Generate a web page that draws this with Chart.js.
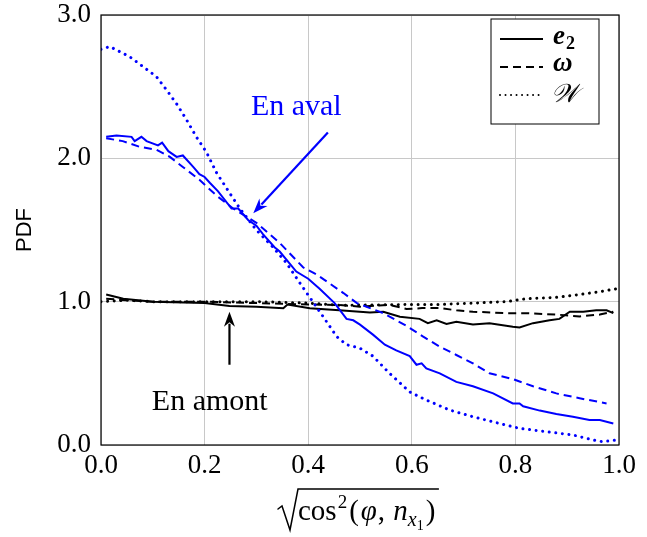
<!DOCTYPE html>
<html>
<head>
<meta charset="utf-8">
<script src="https://cdn.jsdelivr.net/npm/chart.js@4/dist/chart.umd.min.js"></script>
<style>
  html, body { margin: 0; padding: 0; background: #fff; }
  #wrap { width: 647px; height: 537px; }
</style>
</head>
<body>
<div id="wrap"><canvas id="pdfChart" width="647" height="537"></canvas></div>
<script>
// downstream (en aval), blue
const avalE2X = [0.01,0.03,0.059,0.065,0.078,0.088,0.11,0.118,0.13,0.146,0.158,0.178,0.19,0.2,0.21,0.226,0.252,0.265,0.284,0.30,0.313,0.335,0.345,0.377,0.40,0.422,0.451,0.474,0.487,0.50,0.525,0.548,0.57,0.596,0.609,0.619,0.628,0.654,0.686,0.718,0.757,0.795,0.808,0.815,0.847,0.879,0.911,0.943,0.963,0.989];
const avalE2Y = [2.15,2.16,2.15,2.12,2.15,2.12,2.09,2.11,2.05,2.01,2.02,1.94,1.89,1.87,1.83,1.77,1.65,1.65,1.57,1.53,1.47,1.38,1.35,1.21,1.16,1.09,0.99,0.88,0.87,0.84,0.77,0.70,0.66,0.62,0.56,0.57,0.535,0.50,0.44,0.41,0.36,0.29,0.29,0.27,0.24,0.216,0.197,0.174,0.174,0.15];

const avalOmX = [0.01,0.042,0.075,0.107,0.133,0.158,0.19,0.223,0.255,0.30,0.345,0.39,0.416,0.468,0.494,0.545,0.59,0.622,0.654,0.686,0.718,0.75,0.795,0.834,0.879,0.924,0.976];
const avalOmY = [2.14,2.12,2.08,2.06,2.01,1.94,1.85,1.74,1.65,1.55,1.41,1.24,1.19,1.06,0.99,0.92,0.83,0.756,0.686,0.628,0.57,0.50,0.46,0.41,0.36,0.326,0.29];

const avalWX = [0.0,0.017,0.055,0.081,0.107,0.126,0.146,0.165,0.184,0.204,0.223,0.248,0.268,0.30,0.332,0.358,0.384,0.403,0.429,0.455,0.474,0.50,0.525,0.557,0.596,0.628,0.673,0.718,0.763,0.808,0.86,0.911,0.95,0.969,0.995];
const avalWY = [2.76,2.78,2.71,2.64,2.57,2.48,2.38,2.27,2.15,2.04,1.90,1.76,1.65,1.50,1.38,1.27,1.13,1.03,0.895,0.756,0.70,0.675,0.62,0.50,0.37,0.314,0.244,0.197,0.156,0.116,0.093,0.07,0.035,0.023,0.035];

// upstream (en amont), black
const amontE2X = [0.01,0.043,0.1,0.2,0.248,0.3,0.352,0.36,0.403,0.46,0.519,0.545,0.577,0.615,0.631,0.648,0.667,0.686,0.718,0.75,0.795,0.808,0.834,0.866,0.885,0.905,0.931,0.956,0.976,0.989];
const amontE2Y = [1.05,1.02,1.0,0.99,0.97,0.965,0.954,0.98,0.954,0.94,0.925,0.93,0.895,0.88,0.85,0.87,0.845,0.86,0.84,0.85,0.825,0.82,0.85,0.87,0.88,0.93,0.93,0.94,0.94,0.92];

const amontOmX = [0.01,0.05,0.1,0.2,0.3,0.4,0.46,0.5,0.557,0.59,0.62,0.654,0.686,0.718,0.782,0.82,0.879,0.924,0.963,0.989];
const amontOmY = [1.02,1.01,1.0,1.0,0.99,0.98,0.977,0.965,0.977,0.949,0.955,0.955,0.94,0.93,0.92,0.92,0.91,0.897,0.91,0.93];

const amontWX = [0.0,0.05,0.1,0.2,0.3,0.4,0.46,0.525,0.59,0.654,0.718,0.782,0.82,0.879,0.924,0.963,0.995];
const amontWY = [1.0,1.01,1.0,1.0,1.0,0.99,0.975,0.977,0.98,0.98,0.99,1.0,1.02,1.03,1.05,1.07,1.09];

const xTicks = [0.0, 0.2, 0.4, 0.6, 0.8, 1.0];
const yTicks = [0.0, 1.0, 2.0, 3.0];
const legendLabels = ['e', 'ω', '𝒲'];

const SERIF = '"Liberation Serif", "DejaVu Serif", serif';
const BLUE = '#0000ff';
const DASH = [8, 5];
const DOT = [0.01, 6.6];

function pts(xs, ys) {
  return xs.map((x, i) => ({ x: x, y: ys[i] }));
}

function series(xs, ys, color, dash) {
  return {
    data: pts(xs, ys),
    borderColor: color,
    borderWidth: dash === DOT ? 3 : 2,
    borderDash: dash || [],
    borderCapStyle: dash === DOT ? 'round' : 'butt',
    pointRadius: 0,
    tension: 0,
    fill: false
  };
}

// frame, annotations, legend, axis titles
const extras = {
  id: 'extras',
  afterDatasetsDraw(chart) {
    const ctx = chart.ctx;
    const a = chart.chartArea;
    const xs = chart.scales.x, ys = chart.scales.y;
    ctx.save();

    // frame
    ctx.strokeStyle = '#000';
    ctx.lineWidth = 1.2;
    ctx.setLineDash([]);
    ctx.strokeRect(a.left, a.top, a.right - a.left, a.bottom - a.top);

    function arrow(x0, y0, x1, y1, color) {
      const px0 = xs.getPixelForValue(x0), py0 = ys.getPixelForValue(y0);
      const px1 = xs.getPixelForValue(x1), py1 = ys.getPixelForValue(y1);
      const ang = Math.atan2(py1 - py0, px1 - px0);
      const L = 15, W = 5.5;
      ctx.strokeStyle = color;
      ctx.fillStyle = color;
      ctx.lineWidth = 2.2;
      ctx.beginPath();
      ctx.moveTo(px0, py0);
      ctx.lineTo(px1 - Math.cos(ang) * L * 0.8, py1 - Math.sin(ang) * L * 0.8);
      ctx.stroke();
      ctx.beginPath();
      ctx.moveTo(px1, py1);
      ctx.lineTo(px1 - Math.cos(ang) * L - Math.sin(ang) * W, py1 - Math.sin(ang) * L + Math.cos(ang) * W);
      ctx.lineTo(px1 - Math.cos(ang) * L * 0.7, py1 - Math.sin(ang) * L * 0.7);
      ctx.lineTo(px1 - Math.cos(ang) * L + Math.sin(ang) * W, py1 - Math.sin(ang) * L - Math.cos(ang) * W);
      ctx.closePath();
      ctx.fill();
    }

    // "En aval"
    ctx.font = '30px ' + SERIF;
    ctx.textAlign = 'center';
    ctx.textBaseline = 'middle';
    ctx.fillStyle = BLUE;
    ctx.fillText('En aval', xs.getPixelForValue(0.377), ys.getPixelForValue(2.36));
    arrow(0.438, 2.18, 0.294, 1.616, BLUE);

    // "En amont"
    ctx.fillStyle = '#000';
    ctx.fillText('En amont', xs.getPixelForValue(0.21), ys.getPixelForValue(0.30));
    arrow(0.248, 0.56, 0.248, 0.93, '#000');

    // legend
    const lx = 491, ly = 19, lw = 108, lh = 105;
    ctx.fillStyle = '#fff';
    ctx.fillRect(lx, ly, lw, lh);
    ctx.strokeStyle = '#000';
    ctx.lineWidth = 1;
    ctx.strokeRect(lx, ly, lw, lh);
    const rows = [[], DASH, [0.01, 5.5]];
    rows.forEach((d, i) => {
      const yy = ly + 20 + i * 28;
      ctx.setLineDash(d);
      ctx.lineWidth = i === 2 ? 2 : 2;
      ctx.lineCap = i === 2 ? 'round' : 'butt';
      ctx.beginPath();
      ctx.moveTo(lx + 9, yy);
      ctx.lineTo(lx + 52, yy);
      ctx.stroke();
    });
    ctx.setLineDash([]);
    ctx.fillStyle = '#000';
    ctx.textAlign = 'left';
    ctx.font = 'italic bold 27px ' + SERIF;
    ctx.fillText(legendLabels[0], lx + 62, ly + 18);
    ctx.font = 'bold 18px ' + SERIF;
    ctx.fillText('2', lx + 75, ly + 25);
    ctx.font = 'italic bold 27px ' + SERIF;
    ctx.fillText(legendLabels[1], lx + 62, ly + 45);
    ctx.font = 'italic 26px "DejaVu Serif", serif';
    ctx.fillText(legendLabels[2], lx + 60, ly + 76);

    // y title
    ctx.save();
    ctx.translate(25, (a.top + a.bottom) / 2);
    ctx.rotate(-Math.PI / 2);
    ctx.textAlign = 'center';
    ctx.font = '22px "Liberation Sans", "DejaVu Sans", sans-serif';
    ctx.fillText('PDF', 0, 0);
    ctx.restore();

    // x title: sqrt(cos^2(phi, n_x1))
    const bx = 278, by = 520;
    ctx.textAlign = 'left';
    ctx.textBaseline = 'alphabetic';
    let cx = bx + 20;
    const put = (t, f, dy, gap) => {
      ctx.font = f;
      ctx.fillText(t, cx, by + (dy || 0));
      cx += ctx.measureText(t).width + (gap || 0);
    };
    put('cos', '29px ' + SERIF, 0, 1);
    put('2', '19px ' + SERIF, -12, 2);
    put('(', '29px ' + SERIF, 0, 2);
    put('φ', 'italic 29px ' + SERIF, 0, 1);
    put(', ', '29px ' + SERIF, 0, 1);
    put('n', 'italic 29px ' + SERIF);
    put('x', 'italic 20px ' + SERIF, 6);
    put('1', '14px ' + SERIF, 10, 2);
    put(')', '29px ' + SERIF);
    ctx.strokeStyle = '#000';
    ctx.lineWidth = 1.5;
    ctx.beginPath();
    ctx.moveTo(bx, by - 11);
    ctx.lineTo(bx + 4, by - 14);
    ctx.lineTo(bx + 12, by + 10);
    ctx.lineTo(bx + 20, by - 31);
    ctx.lineTo(cx + 3, by - 31);
    ctx.stroke();

    ctx.restore();
  }
};

function initChart() {
  const ctx = document.getElementById('pdfChart').getContext('2d');
  new Chart(ctx, {
    type: 'line',
    data: {
      datasets: [
        series(avalE2X, avalE2Y, BLUE),
        series(avalOmX, avalOmY, BLUE, DASH),
        series(avalWX, avalWY, BLUE, DOT),
        series(amontE2X, amontE2Y, '#000'),
        series(amontOmX, amontOmY, '#000', DASH),
        series(amontWX, amontWY, '#000', DOT)
      ]
    },
    options: {
      responsive: false,
      animation: false,
      layout: { padding: { top: 0, right: 28, left: 0, bottom: 0 } },
      plugins: { legend: { display: false }, tooltip: { enabled: false } },
      scales: {
        x: {
          type: 'linear',
          min: 0, max: 1,
          afterFit: s => { s.height = 92; },
          afterBuildTicks: s => { s.ticks = xTicks.map(v => ({ value: v })); },
          grid: { color: '#c8c8c8', lineWidth: 1, drawTicks: false },
          border: { display: false },
          ticks: {
            color: '#000',
            padding: 5,
            maxRotation: 0,
            font: { family: SERIF, size: 27 },
            callback: v => v.toFixed(1)
          }
        },
        y: {
          min: 0, max: 3,
          afterFit: s => { s.width = 101; s.paddingTop = 15; },
          afterBuildTicks: s => { s.ticks = yTicks.map(v => ({ value: v })); },
          grid: { color: '#c8c8c8', lineWidth: 1, drawTicks: false },
          border: { display: false },
          ticks: {
            color: '#000',
            padding: 10,
            font: { family: SERIF, size: 27 },
            callback: v => v.toFixed(1)
          }
        }
      }
    },
    plugins: [extras]
  });
}

window.addEventListener('DOMContentLoaded', initChart);
</script>
</body>
</html>
